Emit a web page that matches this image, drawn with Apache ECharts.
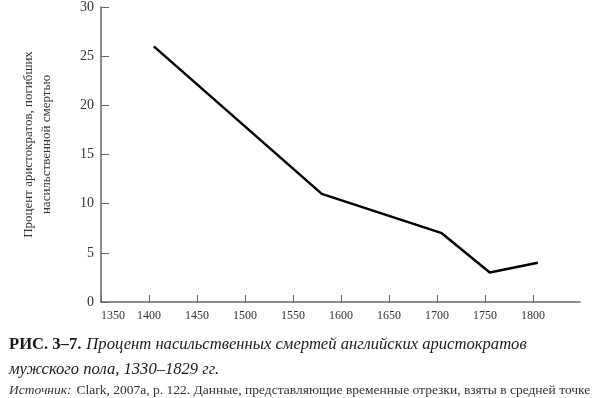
<!DOCTYPE html>
<html>
<head>
<meta charset="utf-8">
<script src="https://cdn.jsdelivr.net/npm/echarts@6/dist/echarts.min.js"></script>
<style>
  html, body { margin: 0; padding: 0; background: #fff; }
  #main { width: 592px; height: 398px; }
</style>
</head>
<body>
<div id="main"></div>
<script>
// годы (середины временных отрезков) и проценты
const years = [1405, 1580, 1705, 1755, 1805];
const violentPct = [26, 11, 7, 3, 4];
const yTicks = [0, 5, 10, 15, 20, 25, 30];
const xTicks = [1350, 1400, 1450, 1500, 1550, 1600, 1650, 1700, 1750, 1800];

const serif = '"Liberation Serif", "DejaVu Serif", serif';

let chart = echarts.init(document.getElementById('main'));
let option = {
  backgroundColor: '#fff',
  animation: false,
  grid: { left: 101, right: 12, top: 5, bottom: 96 },
  title: [
    {
      left: 4, top: 331,
      text: '{b|РИС. 3–7.} {i|Процент насильственных смертей английских аристократов}',
      textStyle: {
        rich: {
          b: { fontFamily: serif, fontWeight: 'bold', fontSize: 16.6, color: '#1a1a1a' },
          i: { fontFamily: serif, fontStyle: 'italic', fontWeight: 'normal', fontSize: 16.6, color: '#1a1a1a' }
        }
      }
    },
    {
      left: 4, top: 356,
      text: 'мужского пола, 1330–1829 гг.',
      textStyle: { fontFamily: serif, fontStyle: 'italic', fontWeight: 'normal', fontSize: 16.6, color: '#1a1a1a' }
    },
    {
      left: 4, top: 376,
      text: '{i|Источник:} {n|Clark, 2007a, p. 122. Данные, представляющие временные отрезки, взяты в средней точке}',
      textStyle: {
        rich: {
          i: { fontFamily: serif, fontStyle: 'italic', fontWeight: 'normal', fontSize: 13.5, color: '#333' },
          n: { fontFamily: serif, fontWeight: 'normal', fontSize: 13.5, color: '#333' }
        }
      }
    }
  ],
  xAxis: {
    type: 'value',
    min: 1350,
    max: 1849,
    interval: 50,
    axisLine: { lineStyle: { color: '#666', width: 1.5 } },
    axisTick: { show: true, inside: true, length: 7, lineStyle: { color: '#666' } },
    splitLine: { show: false },
    axisLabel: {
      fontFamily: serif, fontSize: 12, color: '#333', margin: 8,
      showMaxLabel: false,
      alignMinLabel: 'left',
      formatter: v => xTicks.includes(v) ? String(v) : ''
    }
  },
  yAxis: {
    type: 'value',
    min: 0,
    max: 30,
    interval: 5,
    name: 'Процент аристократов, погибших\nнасильственной смертью',
    nameLocation: 'middle',
    nameGap: 45,
    nameTextStyle: { fontFamily: serif, fontSize: 13, color: '#333', lineHeight: 18, padding: [0, 0, 0, 20] },
    axisLine: { show: true, lineStyle: { color: '#666', width: 1.5 } },
    axisTick: { show: true, inside: true, length: 8, lineStyle: { color: '#666' } },
    splitLine: { show: false },
    axisLabel: {
      fontFamily: serif, fontSize: 14, color: '#333', margin: 7,
      formatter: v => yTicks.includes(v) ? String(v) : ''
    }
  },
  series: [
    {
      type: 'line',
      data: years.map((y, i) => [y, violentPct[i]]),
      symbol: 'none',
      lineStyle: { color: '#000', width: 2.5 }
    }
  ]
};
chart.setOption(option);
</script>
</body>
</html>
